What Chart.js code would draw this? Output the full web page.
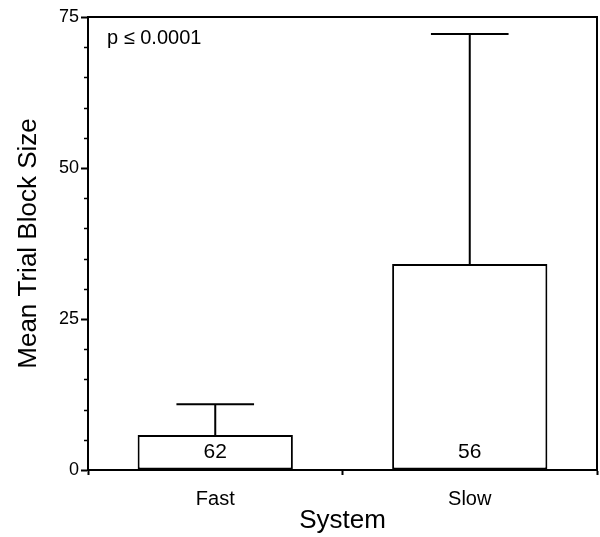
<!DOCTYPE html>
<html>
<head>
<meta charset="utf-8">
<script src="https://cdn.jsdelivr.net/npm/chart.js@4"></script>
<style>
    html, body { margin: 0; padding: 0; background: #fff; }
    #wrap { width: 600px; height: 537px; position: relative; }
</style>
</head>
<body>
<div id="wrap"><canvas id="blockChart"></canvas></div>
<script>
const systems = ['Fast', 'Slow'];
const meanBlockSize = [5.8, 34.1];
const sdBlockSize = [5.1, 38.1];
const groupN = ['62', '56'];
const yTicks = [0, 25, 50, 75];
const pLabel = 'p \u2264 0.0001';

const FONT = "'Liberation Sans', Arial, Helvetica, sans-serif";

// error bars, n labels, minor ticks and the closed frame
const extrasPlugin = {
    id: 'extras',
    afterDatasetsDraw(chart) {
        const ctx = chart.ctx;
        const x = chart.scales.x;
        const y = chart.scales.y;
        const meta = chart.getDatasetMeta(0);
        ctx.save();
        ctx.strokeStyle = '#000';
        ctx.lineWidth = 2;
        meta.data.forEach((bar, i) => {
            const top = y.getPixelForValue(meanBlockSize[i]);
            const errTop = y.getPixelForValue(meanBlockSize[i] + sdBlockSize[i]);
            const half = bar.width / 4;
            ctx.beginPath();
            ctx.moveTo(bar.x, top);
            ctx.lineTo(bar.x, errTop);
            ctx.moveTo(bar.x - half, errTop);
            ctx.lineTo(bar.x + half, errTop);
            ctx.stroke();

            ctx.fillStyle = '#000';
            ctx.font = '21px ' + FONT;
            ctx.textAlign = 'center';
            ctx.textBaseline = 'middle';
            ctx.fillText(groupN[i], bar.x, y.getPixelForValue(2.9));
        });
        ctx.restore();
    },
    afterDraw(chart) {
        const ctx = chart.ctx;
        const area = chart.chartArea;
        const y = chart.scales.y;
        ctx.save();
        ctx.strokeStyle = '#000';
        ctx.lineWidth = 2;
        ctx.strokeRect(area.left, area.top, area.right - area.left, area.bottom - area.top);

        ctx.lineWidth = 1.5;
        for (let v = 0; v <= 75; v += 5) {
            if (v % 25 === 0) continue;
            const py = Math.round(y.getPixelForValue(v)) + 0.5;
            ctx.beginPath();
            ctx.moveTo(area.left - 4, py);
            ctx.lineTo(area.left, py);
            ctx.stroke();
        }

        ctx.fillStyle = '#000';
        ctx.font = '20px ' + FONT;
        ctx.textAlign = 'left';
        ctx.textBaseline = 'middle';
        ctx.fillText(pLabel, area.left + 19, area.top + 21);
        ctx.restore();
    }
};

new Chart(document.getElementById('blockChart').getContext('2d'), {
    type: 'bar',
    data: {
        labels: systems,
        datasets: [{
            data: meanBlockSize,
            backgroundColor: '#fff',
            borderColor: '#000',
            borderWidth: 2,
            borderSkipped: false,
            barPercentage: 0.61,
            categoryPercentage: 1
        }]
    },
    options: {
        responsive: true,
        maintainAspectRatio: false,
        animation: false,
        layout: { padding: { top: 17, right: 3, left: 0, bottom: 0 } },
        plugins: {
            legend: { display: false },
            tooltip: { enabled: false }
        },
        scales: {
            x: {
                offset: true,
                grid: {
                    offset: true,
                    drawOnChartArea: false,
                    tickLength: 5,
                    tickColor: '#000',
                    tickWidth: 2
                },
                border: { color: '#000', width: 2 },
                ticks: {
                    color: '#000',
                    padding: 12,
                    font: { family: FONT, size: 20 }
                },
                title: {
                    display: true,
                    text: 'System',
                    color: '#000',
                    padding: { top: 0, bottom: 1 },
                    font: { family: FONT, size: 26 }
                },
                afterFit(scale) { scale.height = 67; }
            },
            y: {
                min: 0,
                max: 75,
                afterBuildTicks(scale) {
                    scale.ticks = yTicks.map(v => ({ value: v }));
                },
                grid: {
                    drawOnChartArea: false,
                    tickLength: 7,
                    tickColor: '#000',
                    tickWidth: 2
                },
                border: { color: '#000', width: 2 },
                ticks: {
                    color: '#000',
                    padding: 2,
                    font: { family: FONT, size: 18 }
                },
                title: {
                    display: true,
                    text: 'Mean Trial Block Size',
                    color: '#000',
                    padding: { top: 13, bottom: 0 },
                    font: { family: FONT, size: 26 }
                },
                afterFit(scale) { scale.width = 88; }
            }
        }
    },
    plugins: [extrasPlugin]
});
</script>
</body>
</html>
